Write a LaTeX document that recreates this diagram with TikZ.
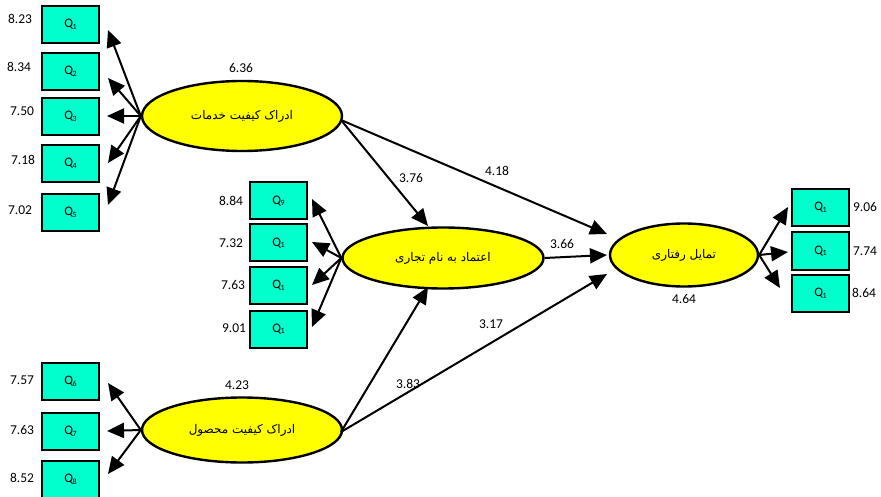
\documentclass[tikz,border=0pt]{standalone}
\usepackage{fontspec}
\setmainfont{Carlito}
\newfontfamily\arabicfont[Script=Arabic]{DejaVu Sans}
\TeXXeTstate=1
\usetikzlibrary{arrows.meta,shapes.geometric}
\definecolor{boxfill}{HTML}{00FFCC}
\definecolor{latfill}{HTML}{FFFF00}
\tikzset{
  item/.style={draw=black,line width=2pt,fill=boxfill,minimum width=57pt,minimum height=37pt,inner sep=0pt,font=\fontsize{13}{13}\selectfont},
  latent/.style={ellipse,draw=black,line width=2.4pt,fill=latfill,inner sep=0pt,font=\arabicfont\fontsize{12}{14}\selectfont},
  val/.style={font=\fontsize{13.5}{14}\selectfont,inner sep=1pt},
  arr/.style={line width=2pt,-{Triangle[length=17pt,width=15pt]}},
}
\newcommand{\qsub}[1]{Q\kern-0.5pt\raisebox{-1.5pt}{\fontsize{8}{8}\selectfont #1}}
\begin{document}
\begin{tikzpicture}[x=1pt,y=-1pt]
\useasboundingbox (0,0) rectangle (881,497);
\fill[white] (0,0) rectangle (881,497);

% latent variables
\node[latent,minimum width=200pt,minimum height=70pt] (srv) at (242,116) {\raisebox{3pt}{\beginR ادراک کیفیت خدمات\endR}};
\node[latent,minimum width=201pt,minimum height=61pt] (trust) at (443,258) {\beginR اعتماد به نام تجاری\endR};
\node[latent,minimum width=148pt,minimum height=63pt] (beh) at (684,255) {\beginR تمایل رفتاری\endR};
\node[latent,minimum width=200pt,minimum height=65pt] (prod) at (242,430) {\raisebox{3pt}{\beginR ادراک کیفیت محصول\endR}};

% indicators of service quality
\node[item] (a1) at (70.5,24.5) {\qsub{1}};
\node[item] (a2) at (70.5,71.5) {\qsub{2}};
\node[item] (a3) at (70.5,116.5) {\qsub{3}};
\node[item] (a4) at (70.5,163.5) {\qsub{4}};
\node[item] (a5) at (70.5,212.5) {\qsub{5}};
% indicators of brand trust
\node[item] (b1) at (278.5,201) {\qsub{9}};
\node[item] (b2) at (278.5,243) {\qsub{1}};
\node[item] (b3) at (278.5,285.5) {\qsub{1}};
\node[item] (b4) at (278.5,329) {\qsub{1}};
% indicators of behavioural intention
\node[item] (c1) at (820.5,207.5) {\qsub{1}};
\node[item] (c2) at (820.5,251) {\qsub{1}};
\node[item] (c3) at (820.5,293.5) {\qsub{1}};
% indicators of product quality
\node[item] (d1) at (70.5,381.5) {\qsub{6}};
\node[item] (d2) at (70.5,431.5) {\qsub{7}};
\node[item] (d3) at (70.5,479.5) {\qsub{8}};

% arrow end points near the indicators
\coordinate (ta1) at (108,30);
\coordinate (ta2) at (108,78);
\coordinate (ta3) at (107,116);
\coordinate (ta4) at (108,163);
\coordinate (ta5) at (108,205);
\coordinate (tb1) at (312,199);
\coordinate (tb2) at (312,242);
\coordinate (tb3) at (312,285);
\coordinate (tb4) at (312,327);
\coordinate (tc1) at (788,207);
\coordinate (tc2) at (788,252);
\coordinate (tc3) at (780,288);
\coordinate (td1) at (108,383);
\coordinate (td2) at (107,431);
\coordinate (td3) at (108,474);

% loadings
\foreach \t in {ta1,ta2,ta3,ta4,ta5} \draw[arr] (srv.west) -- (\t);
\foreach \t in {tb1,tb2,tb3,tb4} \draw[arr] (trust.west) -- (\t);
\foreach \t in {tc1,tc2,tc3} \draw[arr] (beh.east) -- (\t);
\foreach \t in {td1,td2,td3} \draw[arr] (prod.west) -- (\t);

% structural paths
\coordinate (s1) at (341,120);
\coordinate (p1) at (341,432);
\draw[arr] (s1) -- (428,226);
\draw[arr] (s1) -- (607,234);
\draw[arr] (trust.east) -- (607,255);
\draw[arr] (p1) -- (428,287);
\draw[arr] (p1) -- (607,274);

% path coefficients
\node[val] (v1) at (411,178) {3.76};
\node[val] (v2) at (497,171) {4.18};
\node[val] (v3) at (562,244) {3.66};
\node[val] (v4) at (408,384) {3.83};
\node[val] (v5) at (491,324) {3.17};
\node[val] (v6) at (241,68) {6.36};
\node[val] (v7) at (684,299) {4.64};
\node[val] (v8) at (237,385) {4.23};

% indicator values
\node[val] (w1) at (20,19) {8.23};
\node[val] (w2) at (19,67) {8.34};
\node[val] (w3) at (22,111) {7.50};
\node[val] (w4) at (23,160) {7.18};
\node[val] (w5) at (20,210) {7.02};
\node[val] (w6) at (231,201) {8.84};
\node[val] (w7) at (231,243) {7.32};
\node[val] (w8) at (233,285) {7.63};
\node[val] (w9) at (234,328) {9.01};
\node[val] (w10) at (865,207) {9.06};
\node[val] (w11) at (865,251) {7.74};
\node[val] (w12) at (864,293) {8.64};
\node[val] (w13) at (22,380) {7.57};
\node[val] (w14) at (22,430) {7.63};
\node[val] (w15) at (22,478) {8.52};
\end{tikzpicture}
\end{document}
